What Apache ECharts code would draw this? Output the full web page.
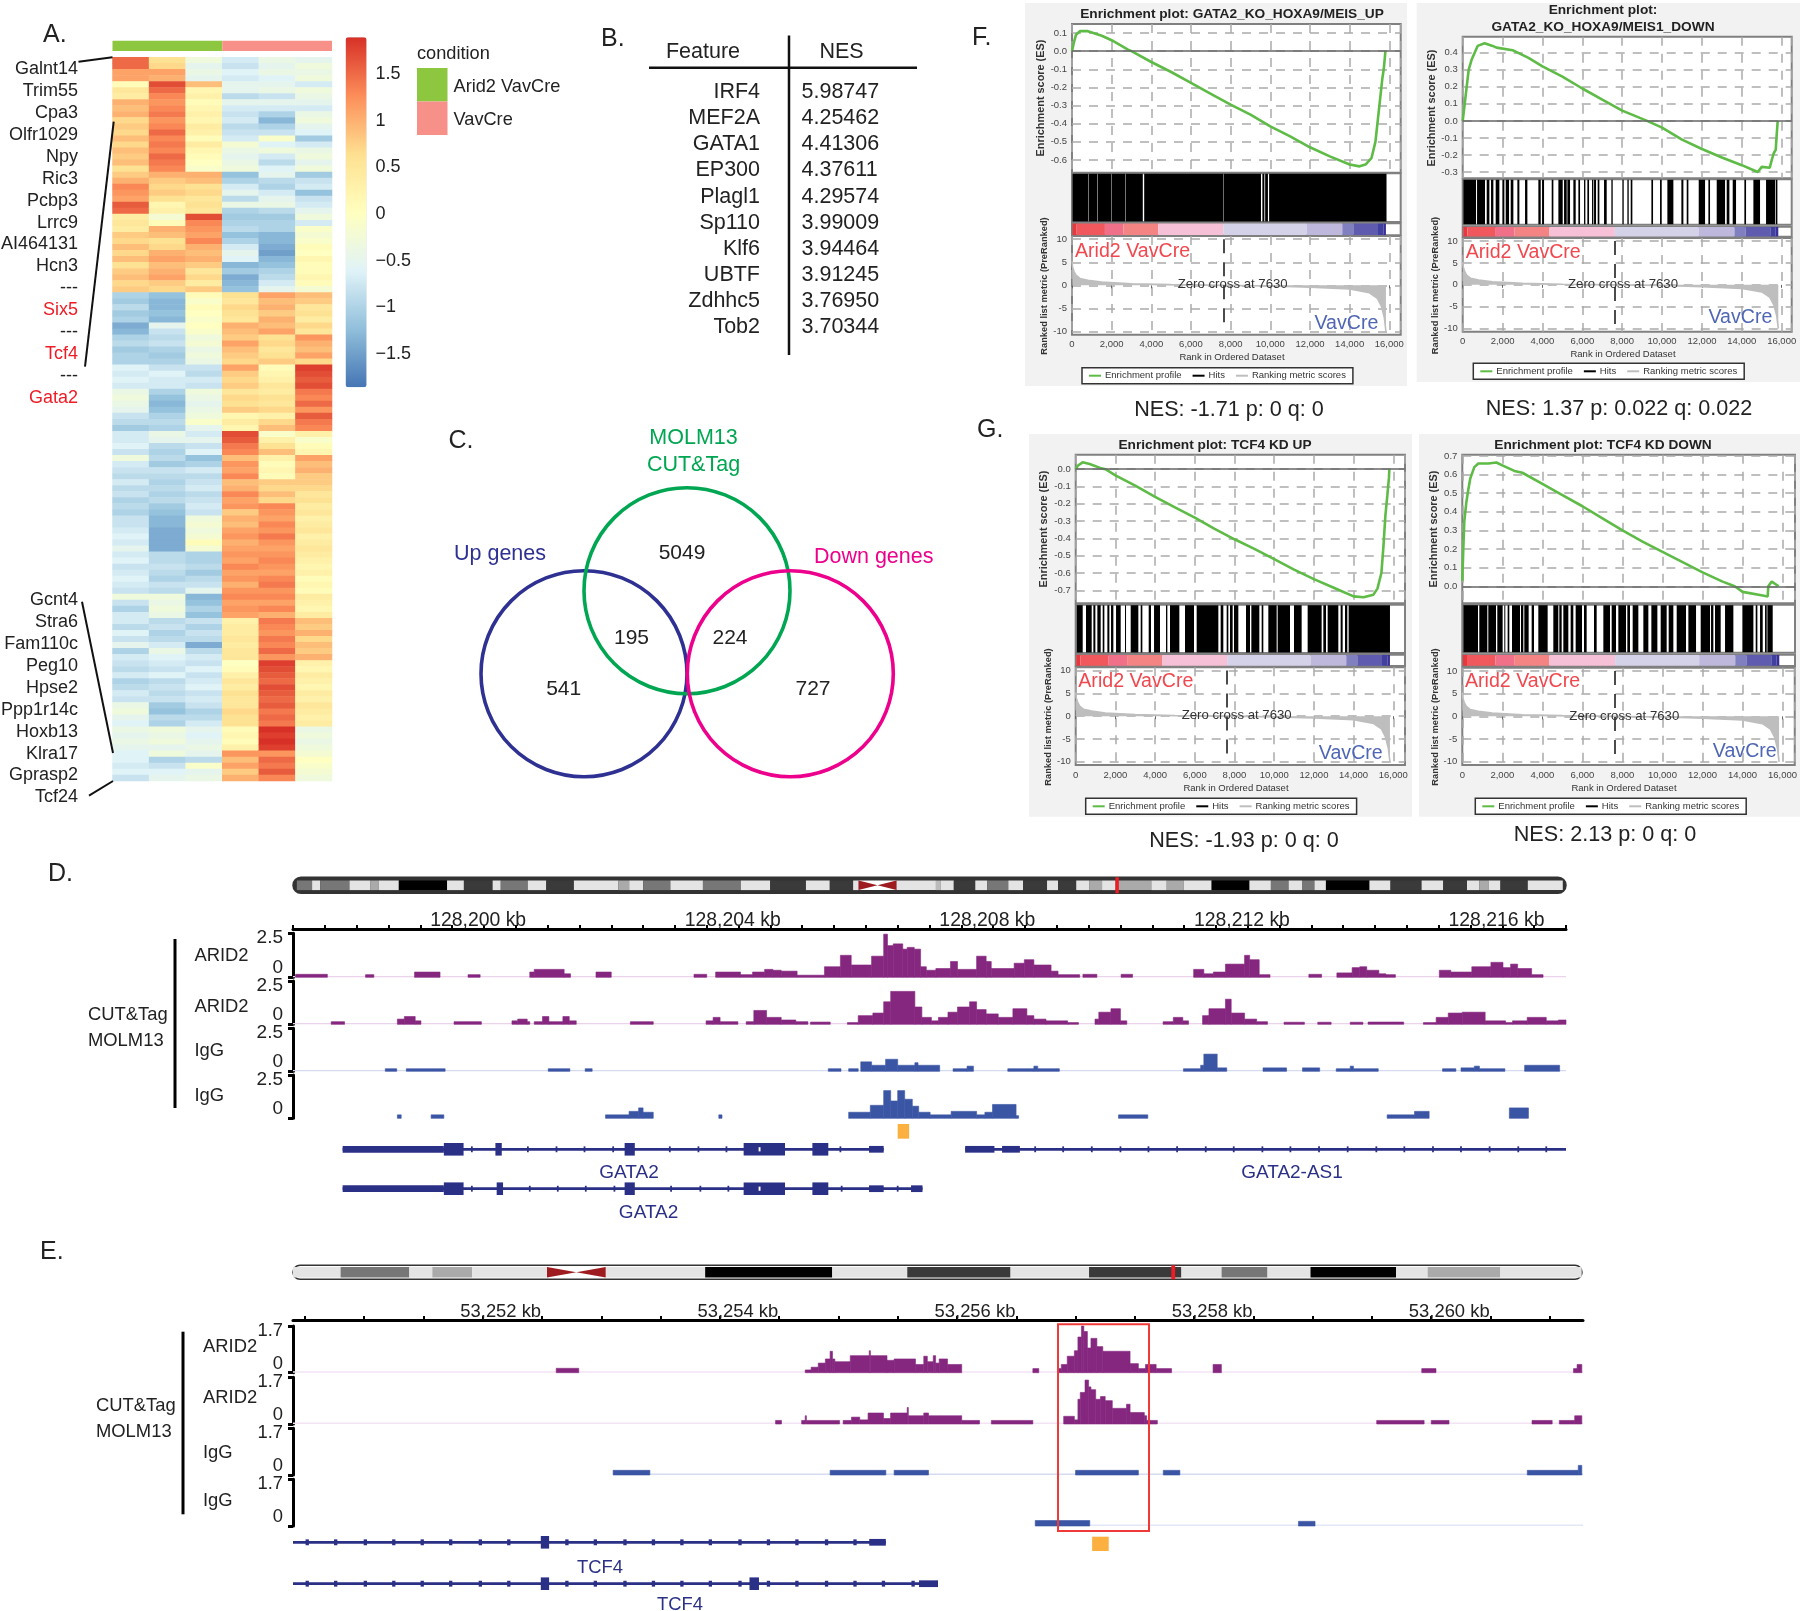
<!DOCTYPE html>
<html><head><meta charset="utf-8">
<script src="https://cdn.jsdelivr.net/npm/echarts@6/dist/echarts.min.js"></script>
<style>html,body{margin:0;background:#fff}#c{width:1800px;height:1611px}</style></head>
<body><div id="c"></div><script>
// ---------- Panel A data ----------
const genesTop=['Galnt14','Trim55','Cpa3','Olfr1029','Npy','Ric3','Pcbp3','Lrrc9','AI464131','Hcn3','---','Six5','---','Tcf4','---','Gata2'];
const genesBottom=['Gcnt4','Stra6','Fam110c','Peg10','Hpse2','Ppp1r14c','Hoxb13','Klra17','Gprasp2','Tcf24'];
const redGenes=['Six5','Tcf4','Gata2'];
const conditions=['Arid2 VavCre','VavCre'];
const colorbarTicks=[1.5,1,0.5,0,-0.5,-1,-1.5];
const heatCol1=[1.5,1.5,1.1,1.1,0.1,.5,.4,1.0,.9,1.0,.7,.8,.7,.9,.7,.9,.8,.9,.6,.8,1.0,1.3,1.2,1.1,1.6,1.5,.4,.5,.4,.8,.7,.9,.7,.9,.6,.8,.9,.7,.8,
-1.0,-1.1,-.9,-1.1,-1.0,-1.4,-1.3,-1.0,-.9,-1.1,-1.0,-1.0,-.6,-.7,-.6,-.7,-.4,-.3,-.4,-.5,-.8,
-.9,-1.1,-.7,-.7,-.6,-.8,-.3,-.7,-.8,-.9,-.7,-.9,-.8,-1.0,-.9,-1.0,-.8,-.8,-.7,-.6,-.7,-.5,-.7,-.6,-.8,-.7,-.6,-.7,-.8,-.3,-.8,-1.0,-.7,-.7,-.9,-.6,-.8,-.5,-1.0,-.7,-.8,-.9,-.7,-1.0,-.9,-.7,-.8,-.4,-.3,-.5,-.6,-.4,-.5,-.4,-.5,-.6,-.6,-.7,-.6,-.8];
const heatCol2=[.6,.7,1.1,1.0,1.7,1.5,1.3,1.2,1.3,1.4,1.2,1.3,1.5,1.3,1.4,1.3,1.5,1.4,1.3,1.0,.8,.7,.8,.6,.2,.3,-.2,.1,1.0,.9,.6,.7,1.0,1.1,.9,1.0,1.1,.8,.7,
-1.2,-1.3,-1.3,-1.2,-1.3,-.5,-.8,-.9,-.8,-1.0,-1.1,-1.0,-.8,-.6,-.7,-.7,-1.0,-1.2,-1.3,-1.2,-1.0,
-.9,-1.0,-.4,-.5,-.9,-1.0,-.9,-1.1,-.8,-.9,-1.0,-.9,-1.0,-.9,-1.1,-1.2,-1.3,-1.3,-1.4,-1.4,-1.4,-1.4,-.9,-.9,-.8,-.9,-1.0,-.8,-.9,-.3,-.4,-.3,-.4,-.9,-.8,-1.0,-.9,-.7,-.4,-.6,-.7,-.8,-.6,-.9,-.8,-.9,-.8,-1.1,-1.2,-.9,-1.0,-.3,-.4,-.3,-.5,-.3,-1.0,-.8,-.6,-.5];
const heatCol3=[-.3,-.5,-.4,-.5,.9,.2,.3,.1,.2,.3,.2,.4,.3,.1,.4,.2,.1,.0,-.1,1.0,.9,.6,.7,.5,.6,.5,1.7,1.3,1.2,1.1,1.3,1.0,.9,1.0,.8,.5,.7,.4,.8,
.1,-.1,.1,0,-.1,0,-.1,-.3,-.2,-.4,-.3,-.4,-.8,-.9,-.7,-.8,-.3,-.4,-.5,-.4,-.3,
-.1,-.5,-.7,-.5,-.8,-.6,-1.2,-1.0,-.7,-.9,-.8,-.7,-.9,-.8,-.7,-.8,-.3,-.2,-.3,-.2,.1,-.2,-1.0,-1.0,-.9,-1.1,-.9,-.8,-.5,-1.3,-1.2,-1.0,-1.2,-.8,-1.0,-.8,-.9,-1.4,-.9,-.7,-.8,-.6,-.8,-.7,-.6,-.8,-.7,-.8,-1.0,-.9,-.7,-.5,-.6,-.5,-.4,-.5,-.9,-.1,-.5,-.4];
const heatCol4=[-.7,-.8,-.6,-.7,-.5,-.5,-.9,-.5,-.7,-.8,-.7,-.9,-.8,-.7,-.2,-.4,-.5,-.4,-.3,-1.2,-1.0,-.7,-.5,-.9,-.4,-1.0,-1.1,-1.0,-.9,-1.2,-1.0,-.7,-.5,-.6,-1.3,-1.1,-1.4,-1.3,-1.2,
.6,.5,.7,.6,.5,1.0,.9,.8,1.1,.9,.8,.7,1.1,.8,.7,.8,.5,.7,.6,.8,.2,
.4,.2,1.7,1.6,1.4,1.3,.9,1.2,1.1,1.3,.9,1.0,1.3,1.1,1.2,.8,1.0,.9,1.1,1.2,1.0,1.1,1.2,1.1,1.3,1.1,1.2,1.0,1.2,1.3,1.1,1.2,1.1,.3,.4,.4,.5,.4,.5,.5,.0,.1,.3,.5,.4,.6,.5,.5,.7,.6,.6,.1,.2,.1,.3,1.2,.9,1.1,.8,1.0];
const heatCol5=[-.4,-.5,-.4,-.6,-.5,-.4,-.8,-.5,-.7,-1.0,-1.3,-1.0,-.8,-.1,-.6,-.3,-.7,-.9,-.6,-.5,-.9,-1.0,-.7,-.5,-.4,-.9,-1.1,-1.0,-1.0,-1.3,-1.3,-1.4,-1.5,-1.3,-1.2,-1.0,-.9,-.7,-.5,
1.1,.9,1.0,.8,1.0,.9,1.1,.6,.7,.5,.6,.8,.1,.2,.3,.5,.4,.6,.5,.7,.3,
.7,.9,-.1,.3,.6,.9,.3,.1,.2,.1,.8,.7,.9,.7,1.3,1.2,1.1,1.3,1.2,1.4,1.2,1.1,1.2,1.3,1.2,1.1,1.3,1.4,1.2,1.3,1.1,1.3,1.0,1.4,1.3,1.2,1.4,1.3,1.5,1.2,1.8,1.7,1.6,1.5,1.7,1.6,1.5,1.6,1.4,1.5,1.4,1.9,1.8,1.9,1.8,1.2,1.5,1.4,1.6,1.3];
const heatCol6=[-.5,-.3,-.4,-.3,-.7,-.3,-.4,-.5,-.7,-.4,-.3,-.5,-.6,-1.1,-.7,-.4,-.3,-.5,-.3,-1.1,-.8,-.7,-1.2,-.8,-.7,-.5,-.3,-.7,-.1,-.2,-.1,.1,0,.2,.1,.1,.2,.1,-.2,
.9,.8,.5,.6,.4,.7,.5,1.2,1.0,.9,1.1,.7,1.8,1.7,1.6,1.7,1.4,1.3,1.5,1.2,1.6,
1.4,1.3,.3,-.1,.1,.2,1.1,.9,1.0,.8,.8,.7,.5,.6,.4,.5,.3,.4,.5,.3,.4,.5,.4,.3,.2,.3,.1,.2,.1,.4,.3,.2,.4,.9,.8,1.0,.7,.9,.8,1.0,.3,.2,.4,.3,.2,.4,.3,.5,.4,.3,.4,-.4,-.3,-.4,-.3,-.2,0,-.1,-.2,-.3];
const heatCols=[heatCol1,heatCol2,heatCol3,heatCol4,heatCol5,heatCol6];

// ---------- Panel B data ----------
const tableFeatures=['IRF4','MEF2A','GATA1','EP300','Plagl1','Sp110','Klf6','UBTF','Zdhhc5','Tob2'];
const tableNES=['5.98747','4.25462','4.41306','4.37611','4.29574','3.99009','3.94464','3.91245','3.76950','3.70344'];

// ---------- Panel C data ----------
const vennCounts=[['5049',212,133.5],['195',161.5,218.5],['224',260,218.5],['541',93.7,269.2],['727',343,269.2]];
const vennSetUp=[114,253.7];
const vennSetMolm=[217,170.7];
const vennSetDown=[320.3,253.7];

// ---------- Panels F, G data ----------
const esF1=[[0,0],[100,.05],[200,.09],[400,.11],[800,.11],[1500,.085],[2000,.06],[2800,.01],[3000,0],[4000,-.06],[5000,-.115],[6000,-.175],[7000,-.235],[8000,-.295],[9000,-.35],[10000,-.415],[11000,-.47],[12000,-.53],[13000,-.58],[14000,-.625],[14500,-.635],[14800,-.625],[15100,-.59],[15300,-.5],[15500,-.3],[15650,-.15],[15720,-.1],[15780,-.03],[15800,0]];
const esF2=[[0,0],[50,.05],[150,.15],[300,.3],[450,.36],[600,.4],[750,.44],[1100,.455],[1500,.44],[1700,.43],[1800,.44],[2500,.415],[3300,.37],[4000,.32],[5000,.26],[6000,.19],[7000,.125],[8000,.06],[9250,0],[10000,-.04],[11000,-.11],[12000,-.165],[13000,-.215],[14000,-.26],[14800,-.3],[15000,-.27],[15400,-.275],[15500,-.23],[15600,-.19],[15700,-.17],[15750,-.08],[15800,0]];
const esG1=[[0,0],[100,.02],[350,.04],[700,.03],[1300,.005],[1500,0],[2000,-.035],[3000,-.095],[4000,-.16],[5000,-.22],[6000,-.28],[7000,-.345],[8000,-.405],[9000,-.46],[10000,-.52],[11000,-.58],[12000,-.635],[13000,-.685],[14000,-.735],[14500,-.74],[15000,-.725],[15200,-.69],[15400,-.6],[15500,-.45],[15600,-.27],[15700,-.15],[15780,-.05],[15800,0]];
const esG2=[[0,.03],[50,.2],[100,.35],[200,.45],[300,.52],[400,.58],[600,.64],[800,.66],[1300,.66],[1700,.665],[2000,.65],[2600,.62],[3000,.61],[4000,.55],[5000,.49],[6000,.43],[7000,.365],[8000,.3],[9000,.24],[10000,.185],[11000,.13],[12000,.075],[13000,.025],[13600,0],[14000,-.03],[15000,-.05],[15250,-.055],[15280,0],[15450,.025],[15800,0]];
const hitsF1=[[30,820],[838,1270],[1290,1990],[2008,2700],[2722,3570],[3640,7622],[7640,9530],[9600,9700],[9740,9880],[9940,15860]];
const hitsF2=[[33,669],[719,1120],[1204,1338],[1421,1538],[1655,1839],[1990,2090],[2157,2324],[2408,2541],[2742,2842],[3127,3244],[3795,3913],[3980,4080],[4464,4548],[4799,5016],[5083,5217],[5250,5384],[5551,5668],[5802,5886],[6086,6153],[6253,6337],[6487,6554],[6588,6688],[6771,6855],[7089,7223],[7457,7524],[8009,8076],[8260,8327],[8427,8510],[9464,9547],[9898,9982],[10266,10567],[10968,11069],[11236,11320],[11838,12156],[12323,12406],[12741,13159],[13242,13376],[13543,13710],[14128,14212],[14580,14914],[15215,15666],[15700,15784]];
const hitsG1=[[50,353],[520,806],[890,991],[1091,1259],[1360,1444],[1595,1696],[1780,1897],[2032,2267],[2485,2535],[2770,3156],[3274,3358],[3677,3794],[3946,4248],[4550,4617],[4751,5221],[5507,5960],[6094,7186],[7303,7437],[7605,7689],[7773,7907],[7975,8193],[8579,8781],[8848,9251],[9368,9452],[9704,10124],[10174,10795],[10997,11383],[11685,12390],[12474,12609],[12693,13230],[13347,13448],[13565,13683],[13750,15832]];
const hitsG2=[[50,783],[849,1249],[1299,1682],[1748,2015],[2098,2148],[2264,2348],[2481,2880],[2930,3047],[3097,3313],[3463,3580],[3796,4262],[4545,4795],[4845,4962],[5045,5295],[5411,5544],[5661,5977],[6077,6210],[6576,6710],[7043,7376],[7459,7675],[7792,8175],[8242,8375],[8508,8791],[9041,9291],[9441,9741],[9907,10206],[10306,10539],[10706,11172],[11289,11672],[11905,12371],[12421,12537],[12620,12903],[13120,13536],[13986,14536],[14652,14735],[14868,15001],[15118,15201],[15235,15501]];
const rankMetric=[[0,5.2],[30,4],[100,3],[200,2.2],[400,1.5],[800,1.1],[1500,.7],[3000,.35],[5000,.15],[7630,0],[10000,-.15],[12000,-.4],[14000,-.8],[15000,-1.6],[15400,-2.8],[15600,-4.5],[15750,-7],[15830,-10]];
const strip=[[30,235,0],[235,1660,1],[1660,2590,2],[2590,4350,3],[4350,7630,4],[7630,11830,5],[11830,13630,6],[13630,14185,7],[14185,15430,8],[15430,15700,9],[15700,15830,10]];

// ---------- Panel D data (offsets in kb from the start of the window) ----------
const regionD=128197.5;
const kbLabelsD=[128200,128204,128208,128212,128216];
const trackD1=[[.04,.54,.17],[1.14,1.27,.15],[1.91,2.31,.3],[2.75,2.94,.15],[3.72,3.79,.3],[3.79,4.26,.45],[4.26,4.36,.2],[4.76,5,.3],[6.3,6.5,.17],[6.64,7.03,.3],[7.03,7.22,.15],[7.22,7.41,.3],[7.41,7.54,.45],[7.54,7.67,.4],[7.67,7.92,.35],[7.92,8.35,.12],[8.35,8.6,.6],[8.6,8.77,1.25],[8.77,9.09,.7],[9.09,9.28,1.2],[9.28,9.34,2.45],[9.34,9.43,1.8],[9.43,9.58,1.9],[9.58,9.65,1.6],[9.65,9.76,1.7],[9.76,9.86,1.6],[9.86,9.95,.6],[9.95,10.1,.4],[10.1,10.33,.5],[10.33,10.44,.9],[10.44,10.74,.45],[10.74,10.89,1.2],[10.89,10.97,.9],[10.97,11.33,.5],[11.33,11.49,.8],[11.49,11.64,1.0],[11.64,11.91,.7],[11.91,12.02,.35],[12.02,12.36,.15],[12.41,12.63,.17],[13.01,13.19,.17],[14.15,14.31,.45],[14.31,14.46,.2],[14.46,14.65,.3],[14.65,14.95,.75],[14.95,15.03,1.25],[15.03,15.18,1.0],[15.18,15.35,.15],[15.96,16.16,.17],[16.4,16.64,.25],[16.64,16.76,.55],[16.76,16.87,.6],[16.87,17.06,.4],[17.06,17.17,.2],[17.17,17.32,.15],[18.01,18.19,.4],[18.19,18.52,.3],[18.52,18.82,.6],[18.82,19.01,.85],[19.01,19.13,.55],[19.13,19.24,.75],[19.24,19.46,.5],[19.46,19.64,.15]];
const trackD2=[[.6,.81,.15],[1.64,1.75,.3],[1.75,1.92,.45],[1.92,2.01,.2],[2.53,2.96,.15],[3.44,3.53,.2],[3.53,3.68,.3],[3.68,3.72,.15],[3.79,3.92,.15],[3.92,4.02,.45],[4.02,4.24,.15],[4.24,4.34,.45],[4.34,4.45,.2],[5.3,5.66,.15],[6.49,6.6,.2],[6.6,6.71,.4],[6.71,6.99,.15],[7.12,7.24,.15],[7.24,7.44,.8],[7.44,7.67,.4],[7.67,7.9,.25],[7.9,8.09,.15],[8.13,8.44,.13],[8.71,8.88,.1],[8.88,9.11,.5],[9.11,9.28,.65],[9.28,9.39,1.3],[9.39,9.77,1.9],[9.77,9.88,1.0],[9.88,10.03,.4],[10.03,10.14,.2],[10.14,10.29,.4],[10.29,10.44,.7],[10.44,10.63,1.0],[10.63,10.74,1.3],[10.74,10.89,.85],[10.89,11.08,.6],[11.08,11.31,.4],[11.31,11.53,.9],[11.53,11.64,.5],[11.64,11.83,.3],[11.83,12.17,.2],[12.17,12.34,.1],[12.6,12.66,.3],[12.66,12.85,.7],[12.85,13,.9],[13,13.1,.2],[13.67,13.83,.15],[13.83,13.98,.4],[13.98,14.07,.2],[14.29,14.39,.5],[14.39,14.65,.9],[14.65,14.74,1.45],[14.74,14.95,.65],[14.95,15.14,.3],[15.14,15.31,.15],[15.57,15.89,.12],[16.1,16.31,.12],[16.61,16.81,.12],[16.89,17.45,.13],[17.76,17.96,.1],[17.96,18.15,.4],[18.15,18.37,.65],[18.37,18.73,.7],[18.73,19.05,.2],[19.05,19.16,.1],[19.16,19.39,.2],[19.39,19.69,.4],[19.69,19.88,.2],[19.88,20,.25]];
const trackD3=[[1.45,1.63,.15],[1.78,2.39,.15],[4.01,4.35,.15],[4.59,4.7,.15],[8.41,8.61,.15],[8.73,8.88,.15],[8.92,9.09,.55],[9.09,9.31,.35],[9.31,9.5,.7],[9.5,9.77,.35],[9.77,9.82,.5],[9.82,10.16,.35],[10.37,10.59,.15],[10.59,10.69,.3],[11.23,11.64,.15],[11.64,11.7,.3],[11.7,12.04,.15],[13.99,14.26,.15],[14.26,14.31,.35],[14.31,14.52,1.0],[14.52,14.67,.2],[15.24,15.61,.2],[15.86,16.13,.2],[16.39,16.61,.15],[16.61,16.66,.3],[16.66,17.05,.15],[18.06,18.27,.15],[18.35,18.56,.2],[18.56,18.64,.3],[18.64,19.04,.15],[19.35,19.9,.35]];
const trackD4=[[1.64,1.7,.2],[2.17,2.37,.2],[4.91,5.28,.2],[5.28,5.43,.4],[5.43,5.5,.6],[5.5,5.66,.35],[6.69,6.74,.2],[8.73,9.07,.35],[9.07,9.28,.75],[9.28,9.39,1.6],[9.39,9.5,1.0],[9.5,9.61,1.6],[9.61,9.73,1.1],[9.73,9.83,.7],[9.83,10.01,.35],[10.01,10.34,.2],[10.34,10.74,.4],[10.74,10.87,.2],[10.87,10.99,.35],[10.99,11.36,.8],[11.36,11.4,.15],[12.97,13.43,.2],[17.19,17.62,.2],[17.62,17.85,.4],[19.11,19.41,.6]];
const peakD=[[9.5,9.68]];
const gata2aUTR=[[.78,2.37],[9.05,9.28]];
const gata2aExon=[[2.37,2.68],[3.18,3.28],[5.21,5.37],[7.08,7.73],[8.16,8.41]];
const gata2aIntron=[[.78,9.28]];
const gata2aTicks=[2.81,3.69,4.14,4.58,5.03,5.92,6.37,6.81,8.6];
const gata2Holes=[7.33];
const as1UTR=[[10.56,11.02],[11.14,11.42]];
const as1Intron=[[10.56,20]];
const as1Ticks=[11.66,12.1,12.55,13,13.44,13.89,14.34,14.78,15.23,15.67,16.12,16.57,17.02,17.46,17.91,18.35,18.8,19.25,19.69];
const gata2bUTR=[[.78,2.37],[9.05,9.28],[9.71,9.89]];
const gata2bExon=[[2.37,2.68],[3.2,3.3],[5.21,5.37],[7.08,7.73],[8.16,8.41]];
const gata2bIntron=[[.78,9.89]];
const gata2bTicks=[2.81,3.72,4.16,4.6,5.05,5.94,6.4,6.84,8.62,9.5];
const ideoD=[[.6,2.97,'g3'],[2.97,4.23,'g0'],[4.23,8.79,'g3'],[8.79,12,'g0'],[12,13.34,'g2'],[13.34,16.46,'g0'],[16.46,23.96,'g5'],[23.96,26.58,'g0'],[26.58,31.05,'g4'],[31.05,32.31,'g0'],[32.31,36.53,'g3'],[36.53,39.39,'g0'],[39.39,43.69,'g4'],[43.69,50.61,'g0'],[50.61,52.29,'g2'],[52.29,54.48,'g0'],[54.48,58.7,'g3'],[58.7,63.76,'g0'],[63.76,69.66,'g3'],[69.66,74.22,'g0'],[74.22,79.78,'g4'],[79.78,83.49,'g0'],[83.49,87.12,'g4'],[87.12,87.97,'g0'],[87.97,93.86,'cen'],[93.86,100,'g0'],[100,100.77,'g1'],[100.77,102.78,'g0'],[102.78,106.12,'g4'],[106.12,107.98,'g0'],[107.98,111.26,'g3'],[111.26,113.56,'g0'],[113.56,117.28,'g4'],[117.28,118.99,'g0'],[118.99,121.82,'g4'],[121.82,123.83,'g0'],[123.83,125.84,'g2'],[125.84,127.92,'g0'],[127.92,133.5,'g2'],[133.5,135.9,'g0'],[135.9,138.56,'g2'],[138.56,142.88,'g0'],[142.88,148.76,'g5'],[148.76,152.1,'g0'],[152.1,154.86,'g3'],[154.86,156.94,'g0'],[156.94,158.88,'g3'],[158.88,160.66,'g0'],[160.66,167.43,'g5'],[167.43,170.7,'g0'],[170.7,175.54,'g4'],[175.54,178.9,'g0'],[178.9,182.6,'g4'],[182.6,184.5,'g0'],[184.5,185.96,'g2'],[185.96,187.8,'g0'],[187.8,192.06,'g4'],[192.06,197.5,'g0']];
const markD=[[127.92,128.45]];
const cenD=[[87.97,93.86]];

// ---------- Panel E data ----------
const regionE=53250.4;
const kbLabelsE=[53252,53254,53256,53258,53260];
const kbTicksE=[53250.5,53251,53251.5,53252,53252.5,53253,53253.5,53254,53254.5,53255,53255.5,53256,53256.5,53257,53257.5,53258,53258.5,53259,53259.5,53260,53260.5,53261];
const trackE1=[[2.22,2.41,.16],[4.32,4.37,.1],[4.37,4.43,.2],[4.43,4.49,.35],[4.49,4.53,.5],[4.53,4.55,.78],[4.55,4.57,.5],[4.57,4.7,.4],[4.7,4.86,.62],[4.86,4.87,.8],[4.87,5.01,.62],[5.01,5.07,.45],[5.07,5.25,.5],[5.25,5.32,.3],[5.32,5.35,.6],[5.35,5.4,.4],[5.4,5.42,.62],[5.42,5.45,.35],[5.45,5.52,.5],[5.52,5.64,.3],[6.24,6.29,.15],[6.46,6.48,.15],[6.48,6.53,.3],[6.53,6.59,.6],[6.59,6.62,.8],[6.62,6.65,1.3],[6.65,6.67,1.7],[6.67,6.7,1.5],[6.7,6.73,.9],[6.73,6.78,1.25],[6.78,6.83,.95],[6.83,7.06,.78],[7.06,7.13,.33],[7.13,7.19,.15],[7.19,7.28,.3],[7.28,7.41,.15],[7.76,7.83,.3],[9.52,9.64,.15],[10.8,10.83,.15],[10.83,10.87,.3]];
const trackE2=[[4.07,4.12,.13],[4.29,4.32,.13],[4.32,4.33,.3],[4.33,4.61,.13],[4.64,4.71,.13],[4.71,4.78,.25],[4.78,4.85,.15],[4.85,4.98,.4],[4.98,5.04,.2],[5.04,5.18,.4],[5.18,5.19,.6],[5.19,5.32,.3],[5.32,5.36,.4],[5.36,5.64,.3],[5.64,5.79,.13],[5.89,6.24,.13],[6.5,6.59,.28],[6.59,6.62,.15],[6.62,6.64,.9],[6.64,6.68,1.15],[6.68,6.71,1.6],[6.71,6.73,1.35],[6.73,6.77,1.25],[6.77,6.81,.9],[6.81,6.85,1.0],[6.85,6.91,.85],[6.91,7.03,.57],[7.03,7.06,.72],[7.06,7.18,.42],[7.18,7.2,.3],[7.2,7.29,.13],[9.14,9.54,.13],[9.6,9.75,.13],[10.45,10.62,.13],[10.68,10.81,.13],[10.81,10.87,.3]];
const trackE3=[[2.7,3.01,.17],[4.53,5,.17],[5.07,5.36,.17],[6.6,7.13,.17],[7.34,7.48,.17],[10.41,10.84,.17],[10.84,10.87,.35]];
const trackE4=[[6.26,6.72,.2],[8.48,8.62,.17]];
const peakE=[[6.74,6.88]];
const tcf4aUTR=[[4.86,5]];
const tcf4aExon=[[2.09,2.16]];
const tcf4aIntron=[[0,5]];
const tcf4Ticks=[.12,.36,.61,.85,1.09,1.33,1.58,1.82,2.31,2.55,2.8,3.04,3.28,3.52,3.77,4.01,4.25,4.5,4.74];
const tcf4bUTR=[[5.28,5.44]];
const tcf4bExon=[[2.09,2.16],[3.85,3.93]];
const tcf4bIntron=[[0,5.44]];
const tcf4bTicks=[.12,.36,.61,.85,1.09,1.33,1.58,1.82,2.31,2.55,2.8,3.04,3.28,3.52,3.77,4.01,4.25,4.5,4.74,4.98,5.23];
const ideoE=[[0,2.88,'g0'],[2.88,7.04,'g3'],[7.04,8.43,'g0'],[8.43,10.84,'g2'],[10.84,15.37,'g0'],[18.92,24.94,'g0'],[24.94,32.63,'g5'],[32.63,37.17,'g0'],[37.17,43.42,'g4'],[43.42,48.17,'g0'],[48.17,53.76,'g4'],[53.76,56.19,'g0'],[56.19,58.97,'g3'],[58.97,61.57,'g0'],[61.57,66.75,'g5'],[66.75,68.66,'g0'],[68.66,73.06,'g2'],[73.06,77.98,'g0']];
const markE=[[53.15,53.38]];
const cenE=[[15.37,18.92]];

// ---------- styles ----------
const FF="'Liberation Sans',Arial,sans-serif";
const heatColors=['#4575B4','#91BFDB','#E0F3F8','#FFFFBF','#FEE090','#FC8D59','#D73027'];
const stainColors={g0:'#E4E4E4',g1:'#BBBBBB',g2:'#AAAAAA',g3:'#777777',g4:'#3A3A3A',g5:'#000000',cen:'#FFFFFF'};
const stripColors=['#E8383D','#F0585E','#F0708A','#F48484','#F6C0D6','#D4D2E8','#BEB8DC','#8080C0','#5F5BAE','#4040A0','#3A2F96'];
const PURPLE='#85277F',BLUE='#3B55A5',NAVY='#2B3087',PPALE='#EBD3EB',BPALE='#D6DCEF',GREEN='#5DBB46',ORANGE='#FBB040',CONDG='#8DC63F',CONDP='#F8908A';

const grids=[],xAxes=[],yAxes=[],series=[],graphics=[],legends=[];
const hiddenAxis=(min,max,o)=>Object.assign({type:'value',show:false,min,max},o||{});
function addGrid(l,t,w,h,xa,ya,g){const i=grids.length;grids.push(Object.assign({left:l,top:t,width:w,height:h,show:false},g||{}));
  xAxes.push(Object.assign({gridIndex:i},xa));yAxes.push(Object.assign({gridIndex:i},ya));return i;}
function txt(text,x,y,size,o){o=o||{};graphics.push({type:'text',silent:true,x,y:y+(o.rot?0:1.3),rotation:o.rot||0,z:20,style:{text,x:0,y:0,font:(o.bold?'bold ':'')+size+'px '+FF,fill:o.color||'#222',align:o.align||'left',verticalAlign:'middle'}});}
function seg(x1,y1,x2,y2,w,color){graphics.push({type:'line',silent:true,z:20,shape:{x1,y1,x2,y2},style:{stroke:color||'#111',lineWidth:w||2}});}
function rects(name,gi,items,colorOf,seam){series.push({type:'custom',name,coordinateSystem:'cartesian2d',xAxisIndex:gi,yAxisIndex:gi,silent:true,clip:false,
  data:items.map(d=>d.slice(0,4)),encode:{x:[0,1],y:[2,3]},itemStyle:{color:colorOf(items[0])},
  renderItem:(p,api)=>{const a=api.coord([api.value(0),api.value(2)]),b=api.coord([api.value(1),api.value(3)]),f=colorOf(items[p.dataIndex]);
    return {type:'rect',shape:{x:a[0],y:b[1],width:b[0]-a[0],height:a[1]-b[1]},style:seam?{fill:f,stroke:f,lineWidth:.6}:{fill:f}};}});}

// ---------- Panel A ----------
const heatData=[];heatCols.forEach((col,c)=>col.forEach((v,r)=>heatData.push([c,r,v])));
const rowNames=heatCol1.map((_,i)=>String(i));
const hg=addGrid(112.5,57.3,219.5,723.7,{type:'category',show:false,data:['c1','c2','c3','c4','c5','c6']},{type:'category',show:false,inverse:true,data:rowNames});
series.push({type:'heatmap',name:'heat',xAxisIndex:hg,yAxisIndex:hg,data:heatData,silent:true,progressive:0,itemStyle:{borderWidth:0}});
const annG=addGrid(112.5,40.7,219.5,10.3,hiddenAxis(0,6),hiddenAxis(0,1));
rects('condition',annG,[[0,3,0,1,0],[3,6,0,1,1]],d=>d[4]==0?CONDG:CONDP);
addGrid(345.6,37.3,21,350,hiddenAxis(0,1),{type:'value',position:'right',min:-1.857,max:1.893,axisLine:{show:false},splitLine:{show:false},
  axisTick:{show:false,customValues:colorbarTicks},axisLabel:{show:true,customValues:colorbarTicks,margin:9,padding:[3,0,0,0],fontFamily:FF,fontSize:18,color:'#222',formatter:v=>String(v).replace('-','\u2212')}});
genesTop.forEach((g,i)=>txt(g,78,68+i*21.9,18,{align:'right',color:redGenes.includes(g)?'#EE1C25':'#222'}));
genesBottom.forEach((g,i)=>txt(g,78,599+i*21.9,18,{align:'right'}));
seg(78.5,61.7,112.5,57.3,2);seg(113.7,121.7,85,366.7,2);seg(82,601.7,113,753,2);seg(89,795.7,113,781,2);
txt('A.',43,34,25);txt('condition',417,53,18.2);
const legG=addGrid(417,68,30.5,67,hiddenAxis(0,1),{type:'value',show:false,min:0,max:2,inverse:true});
rects('conditionLegend',legG,[[0,1,0,1,0],[0,1,1,2,1]],d=>d[4]==0?CONDG:CONDP);
conditions.forEach((c,i)=>txt(c,453.5,86+i*33,18.2));

// ---------- Panel B ----------
txt('B.',601,38,25);
txt('Feature',703,50.5,21.5,{align:'center'});txt('NES',841.5,50.5,21.5,{align:'center'});
seg(649,67.7,917,67.7,2.5);seg(789,35.6,789,355,2.5);
tableFeatures.forEach((f,i)=>{const y=90.7+i*26.15;txt(f,760,y,21.5,{align:'right'});txt(tableNES[i],801.5,y,21.5);});

// ---------- Panel C ----------
txt('C.',448.5,440,25);
const vg=addGrid(470,420,440,370,hiddenAxis(0,440),hiddenAxis(0,370,{inverse:true}));
[[vennSetUp,'#2E3192'],[vennSetMolm,'#00A651'],[vennSetDown,'#EC008C']].forEach(([c,col])=>series.push({type:'scatter',xAxisIndex:vg,yAxisIndex:vg,silent:true,clip:false,data:[c],symbol:'circle',symbolSize:206,itemStyle:{color:'rgba(0,0,0,0)',borderColor:col,borderWidth:3.6,opacity:1}}));
const vennNames=[['Up genes',30,134.5,'#2E3192'],['MOLM13\nCUT&Tag',223.5,32,'#00A651'],['Down genes',403.7,137.2,'#EC008C']];
vennNames.forEach(n=>series.push({type:'scatter',xAxisIndex:vg,yAxisIndex:vg,silent:true,clip:false,data:[[n[1],n[2]]],symbolSize:1,itemStyle:{color:'rgba(0,0,0,0)',opacity:1},label:{show:true,position:'inside',formatter:n[0],fontFamily:FF,fontSize:21.5,color:n[3],lineHeight:27,align:'center',opacity:1}}));
series.push({type:'scatter',xAxisIndex:vg,yAxisIndex:vg,silent:true,clip:false,data:vennCounts.map(v=>[v[1],v[2],v[0]]),symbolSize:1,itemStyle:{color:'rgba(0,0,0,0)',opacity:1},label:{show:true,position:'inside',formatter:p=>p.data[2],fontFamily:FF,fontSize:21,color:'#222',opacity:1}});

// ---------- Panels F, G ----------
function gsea(c){
  addGrid(c.bg[0],c.bg[1],c.bg[2],c.bg[3],hiddenAxis(0,1),hiddenAxis(0,1),{show:true,backgroundColor:'#F2F2F2',borderWidth:0,z:-5});
  const frame={show:true,backgroundColor:'#fff',borderColor:'#808080',borderWidth:2};
  const w=c.right-c.left,xmax=c.xmax;
  const dash={show:true,lineStyle:{color:'#AAAAAA',width:1.5,type:[9,8]}};
  const lab={show:true,fontFamily:FF,fontSize:9.5,color:'#444',margin:5};
  const esG=addGrid(c.left,c.es[0],w,c.es[1]-c.es[0],
    {type:'value',min:0,max:xmax,interval:2000,axisLine:{show:false},axisTick:{show:false},axisLabel:{show:false},splitLine:dash},
    {type:'value',min:c.ymin,max:c.ymax,axisLine:{show:false},splitLine:dash,axisTick:{show:false,customValues:c.yt},axisLabel:Object.assign({},lab,{customValues:c.yt,formatter:v=>v.toFixed(1)})},frame);
  series.push({type:'line',name:'Enrichment profile',xAxisIndex:esG,yAxisIndex:esG,data:c.esData,showSymbol:false,silent:true,lineStyle:{color:GREEN,width:2.6},itemStyle:{color:GREEN},
    markLine:{silent:true,symbol:'none',label:{show:false},lineStyle:{color:'#666',width:1.5,type:'solid'},data:[{yAxis:0}]}});
  const hG=addGrid(c.left,c.hits[0],w,c.hits[1]-c.hits[0],hiddenAxis(0,xmax),hiddenAxis(0,1),frame);
  rects('Hits',hG,c.hitsData.map(h=>[h[0],h[1],0.01,0.99]),()=>'#000');
  const sG=addGrid(c.left,c.strip[0],w,c.strip[1]-c.strip[0],hiddenAxis(0,xmax),hiddenAxis(0,1),frame);
  rects('strip',sG,strip.map(s=>[s[0],s[1],0.02,0.98,s[2]]),d=>stripColors[d[4]]);
  const rv=[-10,-5,0,5,10];
  const rG=addGrid(c.left,c.rank[0],w,c.rank[1]-c.rank[0],
    {type:'value',min:0,max:xmax,interval:2000,axisLine:{show:false},axisTick:{show:true,length:3,lineStyle:{color:'#666'}},splitLine:dash,axisLabel:Object.assign({},lab,{showMaxLabel:false,formatter:v=>v.toLocaleString('en-US')})},
    {type:'value',min:-10.7,max:10.7,axisLine:{show:false},splitLine:dash,axisTick:{show:false,customValues:rv},axisLabel:Object.assign({},lab,{customValues:rv})},frame);
  series.push({type:'line',name:'Ranking metric scores',xAxisIndex:rG,yAxisIndex:rG,data:rankMetric,showSymbol:false,silent:true,lineStyle:{color:'#BEBEBE',width:1.6},areaStyle:{color:'#BEBEBE',opacity:1},itemStyle:{color:'#BEBEBE'},
    markLine:{silent:true,symbol:'none',label:{show:false},lineStyle:{color:'#111',width:1.5,type:[14,9]},data:[[{coord:[7630,10]},{coord:[7630,-9.5]}]]}});
  // text
  c.title.forEach((t,i)=>txt(t,c.titleX,c.titleY+i*16.7,13.7,{bold:true,align:'center'}));
  txt('Enrichment score (ES)',c.esName[0],c.esName[1],10.9,{bold:true,rot:Math.PI/2,align:'center',color:'#333'});
  txt('Ranked list metric (PreRanked)',c.rkName[0],c.rkName[1],9.3,{bold:true,rot:Math.PI/2,align:'center',color:'#333'});
  txt('Rank in Ordered Dataset',c.xName[0],c.xName[1],9.5,{align:'center',color:'#333'});
  txt('Arid2 VavCre',c.arid[0],c.arid[1],19.6,{color:'#F0484E'});
  txt('VavCre',c.vav[0],c.vav[1],19.6,{color:'#4F66B5',align:'right'});
  txt('Zero cross at 7630',c.zero[0],c.zero[1],13.2,{align:'center',color:'#333'});
  txt(c.nes,c.nesPos[0],c.nesPos[1],21.6,{align:'center'});
  legends.push({left:c.leg[0],top:c.leg[1],orient:'horizontal',selectedMode:false,backgroundColor:'#fff',borderColor:'#333',borderWidth:1.5,padding:[3,7],itemGap:11,itemWidth:12,itemHeight:2,
    textStyle:{fontFamily:FF,fontSize:9.5,color:'#333',padding:[0,0,0,-1]},
    data:[{name:'Enrichment profile',icon:'rect',itemStyle:{color:GREEN}},{name:'Hits',icon:'rect',itemStyle:{color:'#000'}},{name:'Ranking metric scores',icon:'rect',itemStyle:{color:'#BEBEBE'}}]});
}
const esT1=[.1,0,-.1,-.2,-.3,-.4,-.5,-.6],esT2=[.4,.3,.2,.1,0,-.1,-.2,-.3],esT3=[0,-.1,-.2,-.3,-.4,-.5,-.6,-.7],esT4=[.7,.6,.5,.4,.3,.2,.1,0];
gsea({bg:[1025,3,382,383],left:1072,right:1400.7,xmax:16575,es:[24,172.7],ymin:-.67,ymax:.1495,yt:esT1,esData:esF1,hits:[173.3,222],hitsData:hitsF1,strip:[223.3,235.3],rank:[236,334.7],
  title:['Enrichment plot: GATA2_KO_HOXA9/MEIS_UP'],titleX:1232,titleY:12.7,esName:[1040.7,98],rkName:[1044,286],xName:[1232,355.7],arid:[1075,250],vav:[1378.3,322],zero:[1232.7,283],nes:'NES: -1.71 p: 0 q: 0',nesPos:[1229,409],leg:[1082,367.7]});
gsea({bg:[1416.7,3,383.3,379],left:1462.7,right:1791.7,xmax:16502,es:[36.7,178.3],ymin:-.337,ymax:.494,yt:esT2,esData:esF2,hits:[179.3,224.7],hitsData:hitsF2,strip:[226.7,236.7],rank:[238,331.7],
  title:['Enrichment plot:','GATA2_KO_HOXA9/MEIS1_DOWN'],titleX:1603,titleY:9.3,esName:[1431.7,108],rkName:[1435,285.5],xName:[1623,352.7],arid:[1465.7,251.7],vav:[1772.3,316],zero:[1623,282.7],nes:'NES: 1.37 p: 0.022 q: 0.022',nesPos:[1619,408],leg:[1473.3,363.3]});
gsea({bg:[1029,434,383,382.7],left:1075.7,right:1405,xmax:16589,es:[454.7,603.3],ymin:-.775,ymax:.084,yt:esT3,esData:esG1,hits:[604.7,653],hitsData:hitsG1,strip:[654.7,666],rank:[667.3,765],
  title:['Enrichment plot: TCF4 KD UP'],titleX:1215,titleY:444,esName:[1044.3,529],rkName:[1048,717],xName:[1236,786.7],arid:[1078.3,680.7],vav:[1382.7,752.7],zero:[1236.7,714.3],nes:'NES: -1.93 p: 0 q: 0',nesPos:[1244,840],leg:[1085.7,798.3]});
gsea({bg:[1419,434,381,382.7],left:1462.3,right:1795,xmax:16614,es:[454.7,603.3],ymin:-.0914,ymax:.707,yt:esT4,esData:esG2,hits:[604.7,652.7],hitsData:hitsG2,strip:[654.7,666],rank:[667.7,765],
  title:['Enrichment plot: TCF4 KD DOWN'],titleX:1603,titleY:444,esName:[1434,529],rkName:[1435,717],xName:[1624,786.7],arid:[1465,680.7],vav:[1776.7,750],zero:[1624.3,715],nes:'NES: 2.13 p: 0 q: 0',nesPos:[1605,834],leg:[1475.3,798.3]});
txt('F.',972,37,25);txt('G.',977,429,25);

// ---------- Panels D, E ----------
function ideogram(l,t,w,h,mb,bands,mark,cen,strong){
  const g=addGrid(l,t,w,h,hiddenAxis(0,mb),hiddenAxis(0,1));
  series.push({type:'custom',name:'outline',coordinateSystem:'cartesian2d',xAxisIndex:g,yAxisIndex:g,silent:true,clip:false,data:[[0,mb]],encode:{x:[0,1]},
    renderItem:(p,api)=>{const a=api.coord([api.value(0),0]),b=api.coord([api.value(1),1]);return {type:'rect',shape:{x:a[0],y:b[1],width:b[0]-a[0],height:a[1]-b[1],r:(a[1]-b[1])/2},style:{fill:strong?'#333':'#fff',stroke:'#333',lineWidth:1.5}};}});
  const i0=strong?.2:.12,i1=strong?.8:.88;
  rects('bands',g,bands.map(b=>[b[0],b[1],i0,i1,b[2]]),d=>stainColors[d[4]]);
  series.push({type:'custom',name:'centromere',coordinateSystem:'cartesian2d',xAxisIndex:g,yAxisIndex:g,silent:true,clip:false,data:cen,encode:{x:[0,1]},
    renderItem:(p,api)=>{const x0=api.value(0),x1=api.value(1),xm=(x0+x1)/2,c=(x,y)=>api.coord([x,y]);
      return {type:'group',children:[{type:'polygon',shape:{points:[c(x0,i0),c(xm,.5),c(x0,i1)]},style:{fill:'#9E1B20'}},{type:'polygon',shape:{points:[c(x1,i0),c(xm,.5),c(x1,i1)]},style:{fill:'#9E1B20'}}]};}});
  rects('cytoband mark',g,mark.map(m=>[m[0],m[1],0,1]),()=>'#EE1C25');
}
function kbAxis(l,axisY,w,dom,labels,shift,size,ticks){
  const xa={type:'value',min:dom[0],max:dom[1],axisLine:{show:true,onZero:false,lineStyle:{color:'#000',width:3}},splitLine:{show:false},
    axisTick:{show:true,inside:true,length:4,lineStyle:{color:'#000',width:2}},
    axisLabel:{show:true,inside:true,margin:-1,customValues:labels,fontFamily:FF,fontSize:size,color:'#222',padding:[0,0,0,shift*2],formatter:v=>v.toLocaleString('en-US')+' kb'}};
  if(ticks)xa.axisTick.customValues=ticks;else xa.interval=.5;
  addGrid(l,axisY-4,w,4,xa,hiddenAxis(0,1));
}
function track(l,top,base,w,dom,ymax,data,color,pale,bl,lsize){
  const start=dom[0];
  const g=addGrid(l,top,w,base-top,hiddenAxis(dom[0],dom[1]),{type:'value',min:0,max:ymax,axisLine:{show:true,lineStyle:{color:'#000',width:3}},splitLine:{show:false},
    axisTick:{show:true,length:5,customValues:[0,ymax],lineStyle:{color:'#000',width:3}},
    axisLabel:{show:true,margin:10,customValues:[0,ymax*.9],fontFamily:FF,fontSize:lsize,color:'#222',verticalAlignMinLabel:'bottom',formatter:v=>v>0?String(ymax):'0'}});
  if(bl)rects('baseline',g,[[start+bl[0],start+bl[1],0,ymax*.03]],()=>pale);
  rects('signal',g,data.map(s=>[start+s[0],start+s[1],0,s[2]]),()=>color,true);
}
function gene(l,cy,w,dom,introns,utrs,exons,ticks,holes){
  const start=dom[0],g=addGrid(l,cy-7,w,14,hiddenAxis(dom[0],dom[1]),hiddenAxis(-1,1));
  const items=[];
  introns.forEach(s=>items.push([start+s[0],start+s[1],-.2,.2]));
  ticks.forEach(t=>items.push([start+t-.014,start+t+.014,-.42,.42]));
  utrs.forEach(s=>items.push([start+s[0],start+s[1],-.48,.48]));
  exons.forEach(s=>items.push([start+s[0],start+s[1],-.9,.9]));
  rects('gene',g,items,()=>NAVY);
  if(holes)rects('gene mark',g,holes.map(t=>[start+t-.015,start+t+.015,-.3,.3]),()=>'#fff');
}
// D
const domD=[regionD,regionD+20];
txt('D.',48,872.6,25);
ideogram(293,877.3,1273,16,198,ideoD,markD,cenD,true);
kbAxis(293,929,1273,domD,kbLabelsD,26,19.4);
track(293,933.3,977.3,1273,domD,2.5,trackD1,PURPLE,PPALE,[0,20],19);
track(293,981,1024.3,1273,domD,2.5,trackD2,PURPLE,PPALE,[0,20],19);
track(293,1028.3,1071.3,1273,domD,2.5,trackD3,BLUE,BPALE,[0,20],19);
track(293,1075,1118.3,1273,domD,2.5,trackD4,BLUE,BPALE,null,19);
const pkD=addGrid(293,1124,1273,14.7,hiddenAxis(domD[0],domD[1]),hiddenAxis(0,1));
rects('peak',pkD,peakD.map(p=>[regionD+p[0],regionD+p[1],0,1]),()=>ORANGE);
gene(293,1149.3,1273,domD,gata2aIntron,gata2aUTR,gata2aExon,gata2aTicks,gata2Holes);
gene(293,1149.3,1273,domD,as1Intron,as1UTR,[],as1Ticks);
gene(293,1188.7,1273,domD,gata2bIntron,gata2bUTR,gata2bExon,gata2bTicks,gata2Holes);
txt('GATA2',629,1171.7,19,{align:'center',color:NAVY});txt('GATA2',648.6,1211,19,{align:'center',color:NAVY});txt('GATA2-AS1',1292,1171.7,19,{align:'center',color:NAVY});
['ARID2','ARID2','IgG','IgG'].forEach((t,i)=>txt(t,194.4,[955,1005.7,1050,1095][i],18.4));
txt('CUT&Tag',88,1014,18.4);txt('MOLM13',88,1039.3,18.4);seg(175,939,175,1108,3,'#000');
// E
const domE=[regionE,regionE+10.88];
txt('E.',40,1251,25);
ideogram(293,1265.3,1289,14,78,ideoE,markE,cenE,false);
kbAxis(293,1320,1290,domE,kbLabelsE,18,18.4,kbTicksE);
track(293,1326,1372.7,1290,domE,1.7,trackE1,PURPLE,'#F3E3F3',[0,10.88],18.4);
track(293,1377.3,1424,1290,domE,1.7,trackE2,PURPLE,'#F3E3F3',[0,10.88],18.4);
track(293,1428.3,1475,1290,domE,1.7,trackE3,BLUE,BPALE,[3.01,10.88],18.4);
track(293,1479.3,1526,1290,domE,1.7,trackE4,BLUE,'#E3E8F6',[6.72,10.88],18.4);
const pkE=addGrid(293,1536.7,1290,14.3,hiddenAxis(domE[0],domE[1]),hiddenAxis(0,1));
rects('peak',pkE,peakE.map(p=>[regionE+p[0],regionE+p[1],0,1]),()=>ORANGE);
gene(293,1542.3,1290,domE,tcf4aIntron,tcf4aUTR,tcf4aExon,tcf4Ticks);
gene(293,1583.7,1290,domE,tcf4bIntron,tcf4bUTR,tcf4bExon,tcf4bTicks);
txt('TCF4',600,1566.7,18.4,{align:'center',color:NAVY});txt('TCF4',680,1604,18.4,{align:'center',color:NAVY});
['ARID2','ARID2','IgG','IgG'].forEach((t,i)=>txt(t,203,[1346,1396.7,1451.7,1500][i],18.4));
txt('CUT&Tag',96,1405,18.4);txt('MOLM13',96,1430.7,18.4);seg(183,1331.7,183,1514.3,3,'#000');
graphics.push({type:'rect',silent:true,z:20,shape:{x:1058,y:1324.3,width:91,height:206.7},style:{fill:'none',stroke:'#F03A3A',lineWidth:2}});

const chart=echarts.init(document.getElementById('c'),null,{renderer:'canvas'});
chart.setOption({animation:false,backgroundColor:'#fff',textStyle:{fontFamily:FF},tooltip:{show:false},
  grid:grids,xAxis:xAxes,yAxis:yAxes,legend:legends,series,graphic:{elements:graphics},
  visualMap:{type:'continuous',seriesIndex:0,min:-1.857,max:1.893,calculable:false,hoverLink:false,left:345.6,top:37.3,padding:0,itemWidth:21,itemHeight:350,orient:'vertical',showLabel:false,inRange:{color:heatColors}}});
</script></body></html>
